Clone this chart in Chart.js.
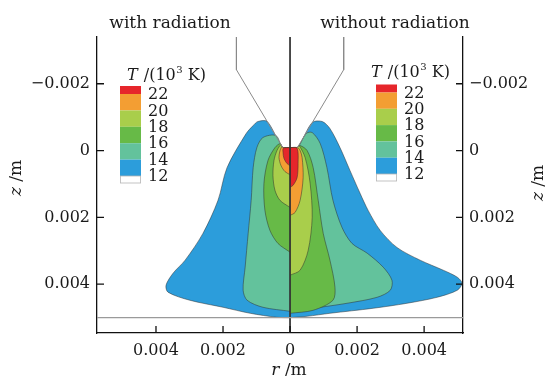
<!DOCTYPE html>
<html>
<head>
<meta charset="utf-8">
<script src="https://cdn.jsdelivr.net/npm/chart.js@4.4.0/dist/chart.umd.min.js"></script>
<style>
  html, body { margin: 0; padding: 0; background: #fff; }
</style>
</head>
<body>
<canvas id="arcChart" width="549" height="376"></canvas>
<script>
// Temperature contour levels (10^3 K), hottest first
const levels = [22, 20, 18, 16, 14, 12];

// Axis ticks (m)
const rTicks = [-0.004, -0.002, 0, 0.002, 0.004];
const zTicks = [-0.002, 0, 0.002, 0.004];

// Left half: with radiation. Each outline is [r, z] in metres, starting under the cathode tip
const withRad22 = [[0, -0.00009], [-0.0002, -0.00007], [-0.00021, 0.00006], [-0.00018, 0.00024], [-0.00009, 0.00039], [0, 0.00045]];
const withRad20 = [[0, -0.00009], [-0.00022, -0.00009], [-0.00024, -0.00012], [-0.0003, 0], [-0.00033, 0.00021], [-0.00027, 0.00045], [-0.00015, 0.00063], [0, 0.00072]];
const withRad18 = [[0, -0.00009], [-0.00022, -0.00009], [-0.00027, -0.00018], [-0.00039, 0], [-0.00048, 0.0003], [-0.00051, 0.00075], [-0.00045, 0.00119], [-0.0003, 0.00149], [0, 0.0017]];
const withRad16 = [[0, -0.00009], [-0.00022, -0.00009], [-0.00029, -0.00021], [-0.00045, -0.00009], [-0.00066, 0.0003], [-0.00078, 0.00099], [-0.00075, 0.00179], [-0.0006, 0.00239], [-0.00036, 0.00278], [0, 0.00304]];
const withRad14 = [[0, -0.00009], [-0.00022, -0.00009], [-0.00042, -0.00045], [-0.00081, -0.00039], [-0.00099, -0.00009], [-0.0011, 0.00051], [-0.00116, 0.00149], [-0.00125, 0.00248], [-0.00134, 0.00349], [-0.0014, 0.00418], [-0.00128, 0.00448], [-0.00081, 0.00469], [0, 0.00481]];
const withRad12 = [[0, -0.00009], [-0.00022, -0.00009], [-0.00068, -0.00087], [-0.00096, -0.00087], [-0.0011, -0.00075], [-0.00131, -0.00051], [-0.00188, 0.00051], [-0.00215, 0.00149], [-0.0026, 0.00248], [-0.00313, 0.00328], [-0.00349, 0.00367], [-0.0037, 0.00403], [-0.00364, 0.00424], [-0.00299, 0.00448], [-0.002, 0.00469], [-0.00119, 0.00487], [-0.00039, 0.00499], [0, 0.005]];

// Right half: without radiation
const noRad22 = [[0, -0.00009], [0.00021, -0.00007], [0.00024, 0.00039], [0.00021, 0.00081], [0.00009, 0.00104], [0, 0.0011]];
const noRad20 = [[0, -0.00009], [0.00022, -0.00009], [0.0003, 0], [0.00036, 0.00021], [0.00039, 0.00081], [0.0003, 0.00149], [0.00015, 0.00185], [0, 0.00194]];
const noRad18 = [[0, -0.00009], [0.00022, -0.00009], [0.00027, -0.00015], [0.00045, 0.00021], [0.0006, 0.00099], [0.00066, 0.002], [0.00054, 0.00299], [0.0003, 0.00358], [0, 0.00373]];
const noRad16 = [[0, -0.00009], [0.00022, -0.00009], [0.0003, -0.00015], [0.00051, 0], [0.00069, 0.00051], [0.00084, 0.00149], [0.00099, 0.00248], [0.00119, 0.00328], [0.00134, 0.00409], [0.00128, 0.00448], [0.00069, 0.00478], [0, 0.00487]];
const noRad14 = [[0, -0.00009], [0.00022, -0.00009], [0.00048, -0.00051], [0.00066, -0.00054], [0.0009, -0.00021], [0.0011, 0.00051], [0.00128, 0.00149], [0.00155, 0.0023], [0.00185, 0.00278], [0.0023, 0.00307], [0.00278, 0.00349], [0.00304, 0.00388], [0.00299, 0.00418], [0.0026, 0.00439], [0.0017, 0.00457], [0.00069, 0.00472], [0, 0.00481]];
const noRad12 = [[0, -0.00009], [0.00022, -0.00009], [0.00066, -0.00084], [0.00096, -0.00087], [0.00119, -0.00066], [0.00149, -0.00009], [0.00179, 0.0006], [0.00209, 0.00128], [0.00233, 0.00179], [0.00269, 0.00239], [0.00319, 0.0029], [0.00388, 0.00328], [0.00457, 0.00358], [0.00499, 0.00379], [0.00513, 0.00397], [0.00499, 0.00418], [0.00439, 0.00439], [0.00349, 0.00457], [0.00248, 0.00472], [0.00119, 0.00487], [0.00051, 0.00496], [0, 0.005]];

// Cathode outline, symmetry axis and anode surface (m)
const cathodeLeft = [[-0.0016, -0.0034], [-0.0016, -0.00242], [-0.00022, -0.00009]];
const cathodeRight = [[0.0016, -0.0034], [0.0016, -0.00242], [0.00022, -0.00009]];
const symmetryAxis = [[0, -0.0034], [0, 0.00546]];
const anodeSurface = [[-0.00576, 0.005], [0.00516, 0.005]];

// ---- styling ----
const bandColors = ['#e6262b', '#f39e33', '#a9ce4b', '#67ba47', '#63c29c', '#2c9ddb'];
const serif = "'DejaVu Serif', serif";

const toXY = pts => pts.map(([r, z]) => ({ x: r, y: z }));

function band(points, color, order) {
  return {
    data: toXY(points),
    showLine: true,
    fill: 'shape',
    backgroundColor: color,
    borderColor: 'rgba(45,45,45,0.7)',
    borderWidth: 0.7,
    pointRadius: 0,
    tension: 0.3,
    order: order
  };
}

function outline(points, color, width, order) {
  return {
    data: toXY(points),
    showLine: true,
    fill: false,
    borderColor: color,
    borderWidth: width,
    pointRadius: 0,
    tension: 0,
    order: order
  };
}

const withRad = [withRad22, withRad20, withRad18, withRad16, withRad14, withRad12];
const noRad = [noRad22, noRad20, noRad18, noRad16, noRad14, noRad12];

const datasets = [];
levels.forEach((lv, i) => {
  datasets.push(band(withRad[i], bandColors[i], 2 + i));   // lower order sits on top
  datasets.push(band(noRad[i], bandColors[i], 2 + i));
});
datasets.push(outline(cathodeLeft, '#8a8a8a', 1, 1));
datasets.push(outline(cathodeRight, '#8a8a8a', 1, 1));
datasets.push(outline(anodeSurface, '#9a9a9a', 1.2, 0));
datasets.push(outline(symmetryAxis, '#333', 1, 0));

// ticks pointing into the plot
const inwardTicks = {
  id: 'inwardTicks',
  afterDatasetsDraw(chart) {
    const { ctx, chartArea: a, scales } = chart;
    ctx.save();
    ctx.strokeStyle = '#111';
    ctx.lineWidth = 1.3;
    ctx.beginPath();
    rTicks.forEach(v => {
      const px = scales.x.getPixelForValue(v);
      ctx.moveTo(px, a.bottom);
      ctx.lineTo(px, a.bottom - 7);
    });
    zTicks.forEach(v => {
      const py = scales.y.getPixelForValue(v);
      ctx.moveTo(a.left, py);
      ctx.lineTo(a.left + 7, py);
      ctx.moveTo(a.right, py);
      ctx.lineTo(a.right - 7, py);
    });
    ctx.stroke();
    ctx.restore();
  }
};

// "T /(10^3 K)" heading
function keyTitle(ctx, x, y) {
  ctx.textAlign = 'left';
  ctx.textBaseline = 'alphabetic';
  ctx.font = 'italic 16px ' + serif;
  ctx.fillText('T', x, y);
  x += ctx.measureText('T').width + 1;
  ctx.font = '16px ' + serif;
  ctx.fillText(' /(10', x, y);
  x += ctx.measureText(' /(10').width;
  ctx.font = '10px ' + serif;
  ctx.fillText('3', x + 0.5, y - 7);
  x += ctx.measureText('3').width + 0.5;
  ctx.font = '16px ' + serif;
  ctx.fillText(' K)', x, y);
}

// colour key: boxes between level boundaries, labels on the boundaries
function colourKey(ctx, x, yFirst, step) {
  const w = 21;
  ctx.fillStyle = bandColors[0];
  ctx.fillRect(x, yFirst - 8, w, 8);
  for (let i = 1; i < bandColors.length; i++) {
    ctx.fillStyle = bandColors[i];
    ctx.fillRect(x, yFirst + (i - 1) * step, w, step);
  }
  const yLast = yFirst + (levels.length - 1) * step;
  ctx.fillStyle = '#fff';
  ctx.fillRect(x, yLast, w, 7);
  ctx.strokeStyle = '#b5b5b5';
  ctx.lineWidth = 0.8;
  ctx.strokeRect(x + 0.4, yLast, w - 0.8, 7);
  ctx.fillStyle = '#1a1a1a';
  ctx.font = '16px ' + serif;
  ctx.textAlign = 'left';
  ctx.textBaseline = 'middle';
  levels.forEach((lv, i) => ctx.fillText(String(lv), x + 28, yFirst + i * step + 1));
}

const annotations = {
  id: 'annotations',
  afterDraw(chart) {
    const ctx = chart.ctx;
    ctx.save();
    ctx.fillStyle = '#1a1a1a';

    ctx.font = '17px ' + serif;
    ctx.textAlign = 'center';
    ctx.textBaseline = 'alphabetic';
    ctx.fillText('with radiation', 170, 28);
    ctx.fillText('without radiation', 395, 28);

    keyTitle(ctx, 127, 80);
    keyTitle(ctx, 371, 77);
    colourKey(ctx, 120, 94, 16.4);
    colourKey(ctx, 376, 92.5, 16.3);

    // axis names
    ctx.fillStyle = '#1a1a1a';
    const axisName = (sym, x, y, rot) => {
      ctx.save();
      ctx.translate(x, y);
      if (rot) ctx.rotate(-Math.PI / 2);
      ctx.font = 'italic 17px ' + serif;
      const w1 = ctx.measureText(sym).width;
      ctx.font = '17px ' + serif;
      const w2 = ctx.measureText(' /m').width;
      let x0 = -(w1 + w2) / 2;
      ctx.textAlign = 'left';
      ctx.textBaseline = 'alphabetic';
      ctx.font = 'italic 17px ' + serif;
      ctx.fillText(sym, x0, 0);
      ctx.font = '17px ' + serif;
      ctx.fillText(' /m', x0 + w1, 0);
      ctx.restore();
    };
    axisName('r', 289, 375, false);
    axisName('z', 21, 178, true);
    axisName('z', 543, 183, true);
    ctx.restore();
  }
};

const zLabel = v => (v < 0 ? '\u2212' : '') + Math.abs(v).toString();

new Chart(document.getElementById('arcChart'), {
  type: 'scatter',
  data: { datasets: datasets },
  options: {
    responsive: false,
    animation: false,
    layout: { padding: { top: 37, left: 0, right: 0, bottom: 0 } },
    plugins: {
      legend: { display: false },
      tooltip: { enabled: false }
    },
    scales: {
      x: {
        type: 'linear',
        min: -0.00576,
        max: 0.00516,
        grid: { display: false, drawTicks: false },
        border: { display: true, color: '#111', width: 1.3 },
        afterBuildTicks: s => { s.ticks = rTicks.map(v => ({ value: v })); },
        afterFit: s => { s.height = 43; },
        ticks: {
          autoSkip: false,
          maxRotation: 0,
          padding: 8,
          color: '#1a1a1a',
          font: { family: serif, size: 16 },
          callback: v => Math.abs(v).toString()
        }
      },
      y: {
        type: 'linear',
        position: 'left',
        reverse: true,
        min: -0.0034,
        max: 0.00546,
        grid: { display: false, drawTicks: false },
        border: { display: true, color: '#111', width: 1.3 },
        afterBuildTicks: s => { s.ticks = zTicks.map(v => ({ value: v })); },
        afterFit: s => { s.width = 97; },
        ticks: {
          autoSkip: false,
          padding: 7,
          color: '#1a1a1a',
          font: { family: serif, size: 16 },
          callback: zLabel
        }
      },
      y2: {
        type: 'linear',
        position: 'right',
        reverse: true,
        min: -0.0034,
        max: 0.00546,
        grid: { display: false, drawTicks: false },
        border: { display: true, color: '#111', width: 1.3 },
        afterBuildTicks: s => { s.ticks = zTicks.map(v => ({ value: v })); },
        afterFit: s => { s.width = 86; },
        ticks: {
          autoSkip: false,
          padding: 6,
          color: '#1a1a1a',
          font: { family: serif, size: 16 },
          callback: zLabel
        }
      }
    }
  },
  plugins: [inwardTicks, annotations]
});
</script>
</body>
</html>
